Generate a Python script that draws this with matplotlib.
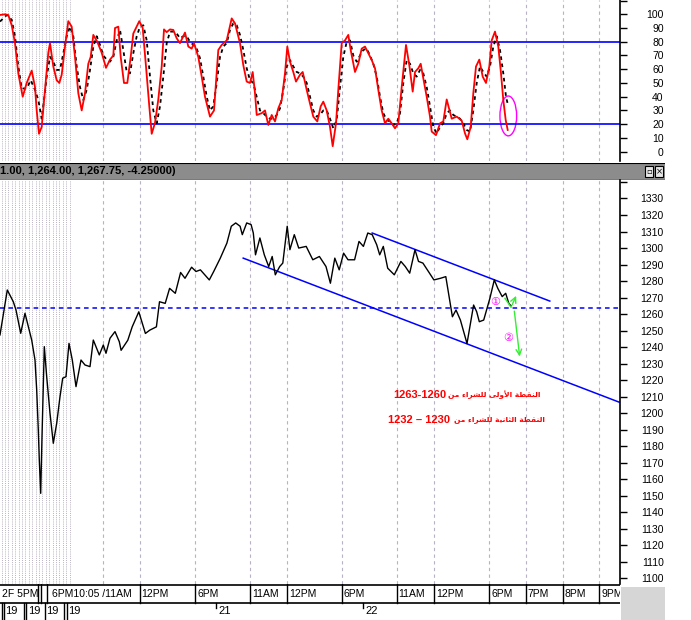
import numpy as np
import matplotlib
matplotlib.use("Agg")
import matplotlib.pyplot as plt
from matplotlib.patches import Ellipse, Rectangle

# ---- data (x = bar position across the chart) ----
hour_ticks = [103, 139.5, 195, 250, 287, 342, 396.5, 434, 489, 525.5, 562.6, 599]
row1_pos = [0, 50, 139.5, 195, 250, 287, 342, 396.5, 434, 489, 525.5, 562.6, 599]
row1_text = ['2F 5PM', '6PM10:05 /11AM', '12PM', '6PM', '11AM', '12PM', '6PM',
             '11AM', '12PM', '6PM', '7PM', '8PM', '9PM']
row2_pos = [5.5, 28, 46, 68.5, 218, 365]
row2_text = ['19', '19', '19', '19', '21', '22']

# stochastic %K (red)
k_x = [0, 5, 8.3, 11.7, 15, 18.3, 22.7, 26.7, 31.7, 35, 36.7, 39, 41.7, 45, 48.3, 50,
       53.3, 56.7, 59.3, 61.7, 65, 68.3, 71.7, 75, 78.3, 81.7, 85, 88.3, 90.7, 93.3,
       97.3, 101.7, 106, 110, 113.3, 115, 118.3, 120.7, 124, 127.3, 130.7, 133.3,
       136.7, 139.3, 142.7, 146, 149.3, 151.7, 155, 158.3, 161.7, 164, 166.7, 170,
       173.3, 176.7, 180, 185, 188.3, 191.7, 194, 198.3, 201.7, 205, 210, 214, 218.3,
       221.7, 226.7, 231.7, 235, 236.7, 240, 243.3, 246.7, 250, 252.7, 255, 256.7,
       261.7, 265, 268.3, 271.7, 275, 278.3, 281.7, 285, 287.3, 290, 293.3, 296, 300,
       302.7, 306.7, 310, 313.3, 317.3, 320.7, 323.3, 326.7, 330, 332.7, 336, 338.3,
       341.7, 345, 348.3, 350.7, 355, 358.3, 361.7, 365, 368.3, 371.7, 375, 378.3,
       381.7, 385, 388.3, 391.7, 395, 398.3, 401.7, 406, 409.3, 412.7, 415, 418.3,
       420.7, 423.3, 426.7, 430, 431.7, 436, 440, 443.3, 446.7, 451.7, 456.7, 461.7,
       465, 467.3, 470.7, 473.3, 476, 479.3, 482.7, 486, 489.3, 491.7, 495, 498.3,
       501, 503.3, 505.7, 507.7]
k_y = [99.5, 100, 99.5, 92, 79, 57, 40, 50, 59, 47, 30, 13, 18, 45, 72, 79,
       62, 52, 50, 56, 76.5, 95, 91, 69, 42.5, 30, 42.5, 64, 69, 85,
       80, 72, 61, 67, 70, 90, 91, 69, 50, 50, 69, 86,
       91, 95, 90, 62, 33, 13, 21, 38, 62, 89, 87, 89,
       88.6, 82.5, 79, 86.7, 76.5, 75, 79, 69, 54.6, 40, 25.5, 30, 74,
       77.7, 81, 97, 93.4, 88.6, 79, 63, 51, 50, 58, 42.5, 26.7,
       28, 30, 19.4, 26.7, 22, 31.5, 37.6, 57, 76.5, 65.5, 58, 51, 56,
       58, 45, 35, 25.5, 22, 33, 36.4, 30, 18, 4, 20.6, 45,
       79, 81, 85, 74, 58, 64, 75, 76.5, 71.6, 66.7, 60.7, 45,
       30, 20.6, 24, 20.6, 17, 20.6, 47, 77.7, 63, 43.7, 58, 60.7,
       64, 53.4, 40, 25.5, 14.6, 12, 20.6, 22, 38, 24, 25.5, 22.6,
       13.3, 9, 18, 42.5, 62, 67, 54.6, 50, 62, 81, 87.4, 76.5,
       57, 37.6, 23, 15.8]

# stochastic %D (black dashed)
d_x = [0, 6.7, 11.7, 15, 18.3, 21.7, 26.7, 30.7, 35, 38.3, 41.7, 44, 46.7, 50, 53.3,
       56.7, 60, 63.3, 66.7, 70, 73.3, 76.7, 80, 83.3, 86.7, 90, 93.3, 96.7, 100,
       103.3, 106.7, 110, 113.3, 116.7, 120, 123.3, 126.7, 130, 133.3, 136.7, 140,
       143.3, 146.7, 150, 153.3, 156.7, 160, 163.3, 166.7, 170, 173.3, 176.7, 180,
       183.3, 186.7, 190, 193.3, 196.7, 200, 203.3, 206.7, 210, 213.3, 216.7, 220,
       223.3, 226.7, 230, 233.3, 236.7, 240, 243.3, 246.7, 250, 253.3, 256.7, 260,
       263.3, 266.7, 270, 273.3, 276.7, 280, 283.3, 286.7, 290, 293.3, 296.7, 300,
       303.3, 306.7, 310, 313.3, 316.7, 320, 323.3, 326.7, 330, 333.3, 336.7, 340,
       343.3, 346.7, 350, 353.3, 356.7, 360, 363.3, 366.7, 370, 373.3, 376.7, 380,
       383.3, 386.7, 390, 393.3, 396.7, 400, 403.3, 406.7, 410, 413.3, 416.7, 420,
       423.3, 426.7, 430, 433.3, 436.7, 440, 443.3, 446.7, 450, 453.3, 456.7, 460,
       463.3, 466.7, 470, 473.3, 476.7, 480, 483.3, 486.7, 490, 493.3, 496.7, 500,
       503.3, 506, 508.3]
d_y = [94.7, 99.5, 96, 84, 62, 46, 46, 52, 45, 37.6, 24, 37.6, 54.6, 69, 65.5,
       59.5, 59.5, 71.6, 84, 91, 84, 62, 47, 37.6, 45, 59.5, 76.5, 84, 77.7,
       70, 67, 65.5, 69, 81, 88.6, 74, 58, 57, 71.6, 84, 91,
       92, 81, 54.6, 30, 20.6, 33, 54.6, 79, 87.4, 87.4, 86, 82.5,
       84, 84, 80, 77.7, 75, 68, 54.6, 40, 30, 33, 50, 69,
       76.5, 79, 88.6, 93.4, 92, 85, 74, 60.7, 52, 50, 40, 30,
       28, 25.5, 24, 24, 26.7, 31.5, 45, 62, 66.7, 62, 58, 57,
       54.6, 50, 40, 30, 25.5, 26.7, 30, 30, 24, 17, 23, 47,
       69, 80, 81, 70, 65.5, 70, 74, 75, 70, 64, 54.6, 40,
       28, 23, 22, 19.4, 20.6, 28, 50, 66.7, 64, 57, 54.6, 59.5,
       57, 47, 33, 18, 13.3, 18, 20.6, 28, 30, 26.7, 25.5, 24,
       20.6, 15.8, 14.6, 30, 50, 62, 58, 54.6, 62, 76.5, 84, 74,
       57, 40, 33]

# price line (black)
price_x = [0, 7.3, 13.3, 16, 20.7, 25, 31.7, 35, 36.7, 38.3, 39.3, 40.7, 42, 44.3,
           46.7, 50, 53.3, 56.7, 60, 62.7, 66, 69, 72.3, 76, 81, 85, 90, 93.3, 99.3,
           103.3, 106, 110, 115, 119.3, 121.1, 127.8, 132.2, 138.8, 145.4, 149.8,
           156.4, 159.5, 165.2, 169.6, 175.3, 180.6, 185, 191.6, 196, 200.4, 209.3,
           213.7, 220.3, 226.9, 231.3, 235.7, 240.1, 242.3, 246.7, 251.1, 253.3, 255.5,
           259.9, 264.3, 268.7, 272.2, 275.3, 279.7, 282.8, 287.2, 289.9, 294.3, 298.7,
           306.2, 312.8, 319.4, 326, 330.4, 334.8, 339.2, 343.6, 348, 354.6, 359,
           363.4, 367.8, 372.2, 376.7, 379.7, 383.3, 387.7, 394.3, 400.9, 405.3, 409.7,
           415, 418.5, 422.9, 429.5, 433.9, 440.5, 445.8, 450.2, 452.4, 456, 460.4,
           467, 473.6, 476.7, 479.3, 483.7, 489.9, 494.3, 497.8, 502.2, 505.7, 508.8,
           511]
price_y = [1247.4, 1274.6, 1267.5, 1262.5, 1248.4, 1260.5, 1244.3, 1232.2, 1214,
           1189.9, 1171.7, 1151.5, 1185.8, 1240.3, 1222.1, 1200, 1181.8, 1193.9, 1210,
           1221.2, 1222.1, 1242.3, 1232.2, 1216.1, 1232.2, 1229.2, 1228.2, 1244.3,
           1235.3, 1241.3, 1236.3, 1245.4, 1249.4, 1243.3, 1238.1, 1244.2, 1252.3,
           1261.4, 1248.3, 1250.3, 1252.3, 1267.5, 1266.5, 1275.6, 1272.6, 1285.2,
           1281.7, 1288.4, 1285.8, 1286.8, 1280.7, 1285.8, 1293.9, 1303, 1313.2,
           1315.2, 1313.2, 1308.1, 1315.2, 1314.2, 1309.1, 1295.9, 1306.1, 1295.9,
           1288.8, 1294.9, 1283.8, 1288.8, 1290.9, 1313.2, 1299, 1308.1, 1300, 1301,
           1292.9, 1294.9, 1288.8, 1278.7, 1293.9, 1286.8, 1296.9, 1292.9, 1292.9,
           1304, 1301, 1309.1, 1308.1, 1302, 1295.9, 1301, 1287.8, 1283.8, 1291.9,
           1288.8, 1284.8, 1299, 1291.9, 1290.9, 1284.8, 1280.7, 1281.7, 1282.7,
           1266.5, 1258.4, 1262.5, 1256.4, 1242.2, 1265.5, 1261.4, 1255.4, 1256.4,
           1269.6, 1280.7, 1275.6, 1270.6, 1272.6, 1266.5, 1265]

upper_x, upper_y = [372.2, 549.8], [1309.1, 1267.9]
lower_x, lower_y = [243.2, 620], [1293.9, 1206.5]
support = 1263.5
green1_x, green1_y = [505, 511, 517.3], [1269.6, 1264.1, 1272.6]
green2_x, green2_y = [514, 520], [1263.5, 1232.7]

status_text = '1.00, 1,264.00, 1,267.75, -4.25000)'
note1_num, note1_ar = '1263-1260', 'النقطة الأولى للشراء من'
note2_num, note2_ar = '1232 – 1230', 'النقطة الثانية للشراء من'
note1_y, note2_y = 1211, 1196

# ---- tiny arabic shaper (no reshaper library available) ----
AR_FORMS = {
    'ا': ('\ufe8d', '\ufe8e', None, None),
    'أ': ('\ufe83', '\ufe84', None, None),
    'ة': ('\ufe93', '\ufe94', None, None),
    'ث': ('\ufe99', '\ufe9a', '\ufe9b', '\ufe9c'),
    'ر': ('\ufead', '\ufeae', None, None),
    'ش': ('\ufeb5', '\ufeb6', '\ufeb7', '\ufeb8'),
    'ط': ('\ufec1', '\ufec2', '\ufec3', '\ufec4'),
    'ق': ('\ufed5', '\ufed6', '\ufed7', '\ufed8'),
    'ل': ('\ufedd', '\ufede', '\ufedf', '\ufee0'),
    'م': ('\ufee1', '\ufee2', '\ufee3', '\ufee4'),
    'ن': ('\ufee5', '\ufee6', '\ufee7', '\ufee8'),
    'و': ('\ufeed', '\ufeee', None, None),
    'ى': ('\ufeef', '\ufef0', None, None),
    'ي': ('\ufef1', '\ufef2', '\ufef3', '\ufef4'),
    'ء': ('\ufe80', None, None, None),
    'لأ': ('\ufef7', '\ufef8', None, None),
}


def shape(text):
    units = []
    i = 0
    while i < len(text):
        if text[i:i + 2] in AR_FORMS:
            units.append(text[i:i + 2])
            i += 2
        else:
            units.append(text[i])
            i += 1
    out = []
    for j, u in enumerate(units):
        f = AR_FORMS.get(u)
        if f is None:
            out.append(u)
            continue
        prev = AR_FORMS.get(units[j - 1]) if j > 0 else None
        nxt = AR_FORMS.get(units[j + 1]) if j + 1 < len(units) else None
        jp = prev is not None and prev[2] is not None and f[1] is not None
        jn = nxt is not None and nxt[1] is not None and f[2] is not None
        if jp and jn:
            out.append(f[3])
        elif jp:
            out.append(f[1])
        elif jn:
            out.append(f[2])
        else:
            out.append(f[0])
    return ''.join(out)[::-1]


# ---- layout in pixels ----
W, H = 691, 620


def box(x0, y0, x1, y1):
    return [x0 / W, 1 - y1 / H, (x1 - x0) / W, (y1 - y0) / H]


plt.rcParams['font.family'] = ['Liberation Sans', 'DejaVu Sans']
fig = plt.figure(figsize=(W / 100, H / 100), dpi=100)

grid_c = '#b9b2c4'
dense_x = np.arange(1.5, 70, 3.4)


def style_panel(ax, lo, hi, ticks, hidden):
    ax.set_xlim(0, 620)
    ax.set_ylim(lo, hi)
    for s in ['top', 'left', 'bottom']:
        ax.spines[s].set_visible(False)
    ax.spines['right'].set_linewidth(1.2)
    ax.yaxis.tick_right()
    ax.set_yticks(ticks)
    ax.set_yticklabels(['' if t in hidden else str(t) for t in ticks])
    ax.tick_params(axis='y', direction='out', length=5, width=1, labelsize=7.5, pad=26.5)
    for lab in ax.get_yticklabels():
        lab.set_horizontalalignment('right')
    ax.set_xticks([])
    for xv in dense_x:
        ax.axvline(xv, color='#b8b2c0', lw=0.7, ls=(0, (1, 1.2)), zorder=0)
    for xv in hour_ticks:
        ax.axvline(xv, color=grid_c, lw=0.8, ls=(0, (3, 3)), zorder=0)


# top stochastic panel
ax1 = fig.add_axes(box(0, 0, 620, 161))
style_panel(ax1, -6.8, 110.4, list(range(0, 111, 10)), [110])
ax1.axhline(80, color='#0000ff', lw=1.2)
ax1.axhline(20, color='#0000ff', lw=1.2)
ax1.plot(d_x, d_y, color='black', lw=1.3, ls=(0, (2, 2)))
ax1.plot(k_x, k_y, color='#ff0000', lw=1.3)
ax1.add_patch(Ellipse((508.3, 26), 16.7, 29, fill=False, edgecolor='#ff00ff', lw=1))

# status bar
axb = fig.add_axes(box(0, 163, 665, 180))
axb.set_xlim(0, 665)
axb.set_ylim(0, 17)
axb.set_facecolor('#8c8c8c')
for s in axb.spines.values():
    s.set_visible(False)
axb.axhline(17, color='black', lw=1.5)
axb.axhline(0, color='#333333', lw=1)
axb.set_xticks([])
axb.set_yticks([])
axb.text(0, 8.5, status_text, fontsize=8, fontweight='bold', va='center', ha='left')
for bx, sym in [(645, '▫'), (655, '×')]:
    axb.add_patch(Rectangle((bx, 3.5), 8, 10, facecolor='#e8e8e8', edgecolor='black', lw=0.8))
    axb.text(bx + 4, 8.5, sym, fontsize=6, ha='center', va='center', family=['DejaVu Sans'])

# price panel
ax2 = fig.add_axes(box(0, 180, 620, 584))
style_panel(ax2, 1096.6, 1341.2, list(range(1100, 1341, 10)), [1340])
ax2.axhline(support, color='#0000ff', lw=1.1, ls=(0, (3, 2.5)))
ax2.plot(upper_x, upper_y, color='#0000ff', lw=1.1)
ax2.plot(lower_x, lower_y, color='#0000ff', lw=1.1)
ax2.plot(price_x, price_y, color='black', lw=1)
ax2.plot(green1_x[:2], green1_y[:2], color='#33ee33', lw=1)
ax2.annotate('', xy=(green1_x[2], green1_y[2]), xytext=(green1_x[1], green1_y[1]),
             arrowprops=dict(arrowstyle='->', color='#33ee33', lw=1, mutation_scale=10))
ax2.annotate('', xy=(green2_x[1], green2_y[1]), xytext=(green2_x[0], green2_y[0]),
             arrowprops=dict(arrowstyle='->', color='#33ee33', lw=1, mutation_scale=10))
ax2.text(495, 1267.2, '①', color='#ff00ff', fontsize=8, ha='center', va='center',
         family=['DejaVu Sans', 'Noto Sans CJK JP'])
ax2.text(508.3, 1245.4, '②', color='#ff00ff', fontsize=8, ha='center', va='center',
         family=['DejaVu Sans', 'Noto Sans CJK JP'])
# notes: arabic part on the right, numbers to its left
ax2.text(540, note1_y, shape(note1_ar), color='#ff0000', fontsize=5.4,
         fontweight='bold', ha='right', va='center', family=['DejaVu Sans'])
ax2.text(446, note1_y, note1_num, color='#ff0000', fontsize=8,
         fontweight='bold', ha='right', va='center')
ax2.text(545, note2_y, shape(note2_ar), color='#ff0000', fontsize=5.4,
         fontweight='bold', ha='right', va='center', family=['DejaVu Sans'])
ax2.text(450, note2_y, note2_num, color='#ff0000', fontsize=8,
         fontweight='bold', ha='right', va='center')

# time axis rows
axl = fig.add_axes(box(0, 584, 620, 620))
axl.set_xlim(0, 620)
axl.set_ylim(36, 0)
axl.axis('off')
axl.axhline(0.5, color='black', lw=1.2)
axl.axhline(19, color='black', lw=1.2)
for xv in [38, 41, 46.7] + hour_ticks[1:]:
    axl.plot([xv, xv], [0, 19], color='black', lw=1)
for xv, t in zip(row1_pos, row1_text):
    axl.text(xv + 2, 10, t, fontsize=7.5, va='center', ha='left', clip_on=True)
for xv in [1.5, 4, 23.5, 26, 44.5, 63.5, 66.5]:
    axl.plot([xv, xv], [19, 36], color='black', lw=1)
for xv in [215.8, 363.4]:
    axl.plot([xv, xv], [19, 24], color='black', lw=1)
for xv, t in zip(row2_pos, row2_text):
    axl.text(xv, 27.5, t, fontsize=8, va='center', ha='left')

fig.patches.append(Rectangle((621 / W, 0), 44 / W, 33 / H, transform=fig.transFigure,
                             facecolor='#d6d6d6', edgecolor='none'))

fig.savefig('out.png', dpi=100)
